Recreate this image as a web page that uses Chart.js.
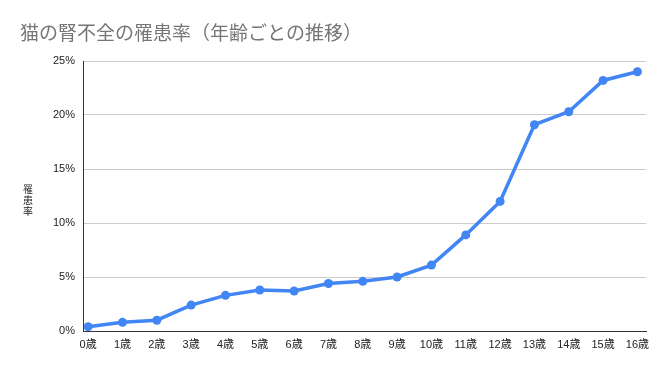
<!DOCTYPE html>
<html>
<head>
<meta charset="utf-8">
<script src="https://cdn.jsdelivr.net/npm/chart.js@4"></script>
<style>
  html, body { margin: 0; padding: 0; background: #fff; }
  #wrap { width: 664px; height: 371px; }
</style>
</head>
<body>
<div id="wrap"><canvas id="rateChart"></canvas></div>
<script>
// ages (years) and rate of kidney failure (%)
const ages = [0, 1, 2, 3, 4, 5, 6, 7, 8, 9, 10, 11, 12, 13, 14, 15, 16];
const rates = [0.4, 0.8, 1.0, 2.4, 3.3, 3.8, 3.7, 4.4, 4.6, 5.0, 6.1, 8.9, 12.0, 19.1, 20.3, 23.2, 24.0];
const yTicks = [0, 5, 10, 15, 20, 25];

const chartTitle = '猫の腎不全の罹患率（年齢ごとの推移）';
const yTitle = '罹患率';

const fontFamily = '"Liberation Sans", Arial, "Noto Sans CJK JP", sans-serif';

// title and stacked vertical axis title
const textPlugin = {
    id: 'textPlugin',
    afterDraw(chart) {
        const c = chart.ctx;
        const area = chart.chartArea;
        c.save();
        c.fillStyle = '#757575';
        c.font = '19px ' + fontFamily;
        c.textAlign = 'left';
        c.textBaseline = 'middle';
        c.fillText(chartTitle, 20, 35);

        c.fillStyle = '#222';
        c.font = '10px ' + fontFamily;
        c.textAlign = 'center';
        c.textBaseline = 'middle';
        const chars = Array.from(yTitle);
        const mid = (area.top + area.bottom) / 2 + 5;
        chars.forEach((ch, i) => {
            c.fillText(ch, 28, mid + (i - (chars.length - 1) / 2) * 11);
        });
        c.restore();
    }
};

const ctx = document.getElementById('rateChart').getContext('2d');
new Chart(ctx, {
    type: 'line',
    data: {
        datasets: [{
            label: yTitle,
            data: ages.map((a, i) => ({ x: a, y: rates[i] })),
            borderColor: '#4285F4',
            backgroundColor: '#4285F4',
            borderWidth: 3.5,
            pointRadius: 4.5,
            pointBorderWidth: 0,
            tension: 0,
            fill: false
        }]
    },
    options: {
        responsive: true,
        maintainAspectRatio: false,
        animation: false,
        layout: { padding: { top: 61, right: 18, left: 0, bottom: 0 } },
        plugins: {
            legend: { display: false },
            title: { display: false },
            tooltip: { enabled: false }
        },
        scales: {
            x: {
                type: 'linear',
                min: -0.15,
                max: 16.25,
                afterBuildTicks: s => { s.ticks = ages.map(a => ({ value: a })); },
                afterFit: s => { s.height = 40; },
                grid: { display: false, drawTicks: false },
                border: { display: true, color: '#333', width: 1 },
                ticks: {
                    autoSkip: false,
                    maxRotation: 0,
                    padding: 7,
                    color: '#222',
                    font: { size: 11, family: fontFamily },
                    callback: v => v + '歳'
                }
            },
            y: {
                min: 0,
                max: 25,
                afterBuildTicks: s => { s.ticks = yTicks.map(v => ({ value: v })); },
                afterFit: s => { s.width = 83; },
                grid: {
                    color: c => c.index === 0 ? '#333' : '#cccccc',
                    drawTicks: false
                },
                border: { display: true, color: '#333', width: 1 },
                ticks: {
                    padding: 8,
                    color: '#222',
                    font: { size: 11, family: fontFamily },
                    callback: v => v + '%'
                }
            }
        }
    },
    plugins: [textPlugin]
});
</script>
</body>
</html>
